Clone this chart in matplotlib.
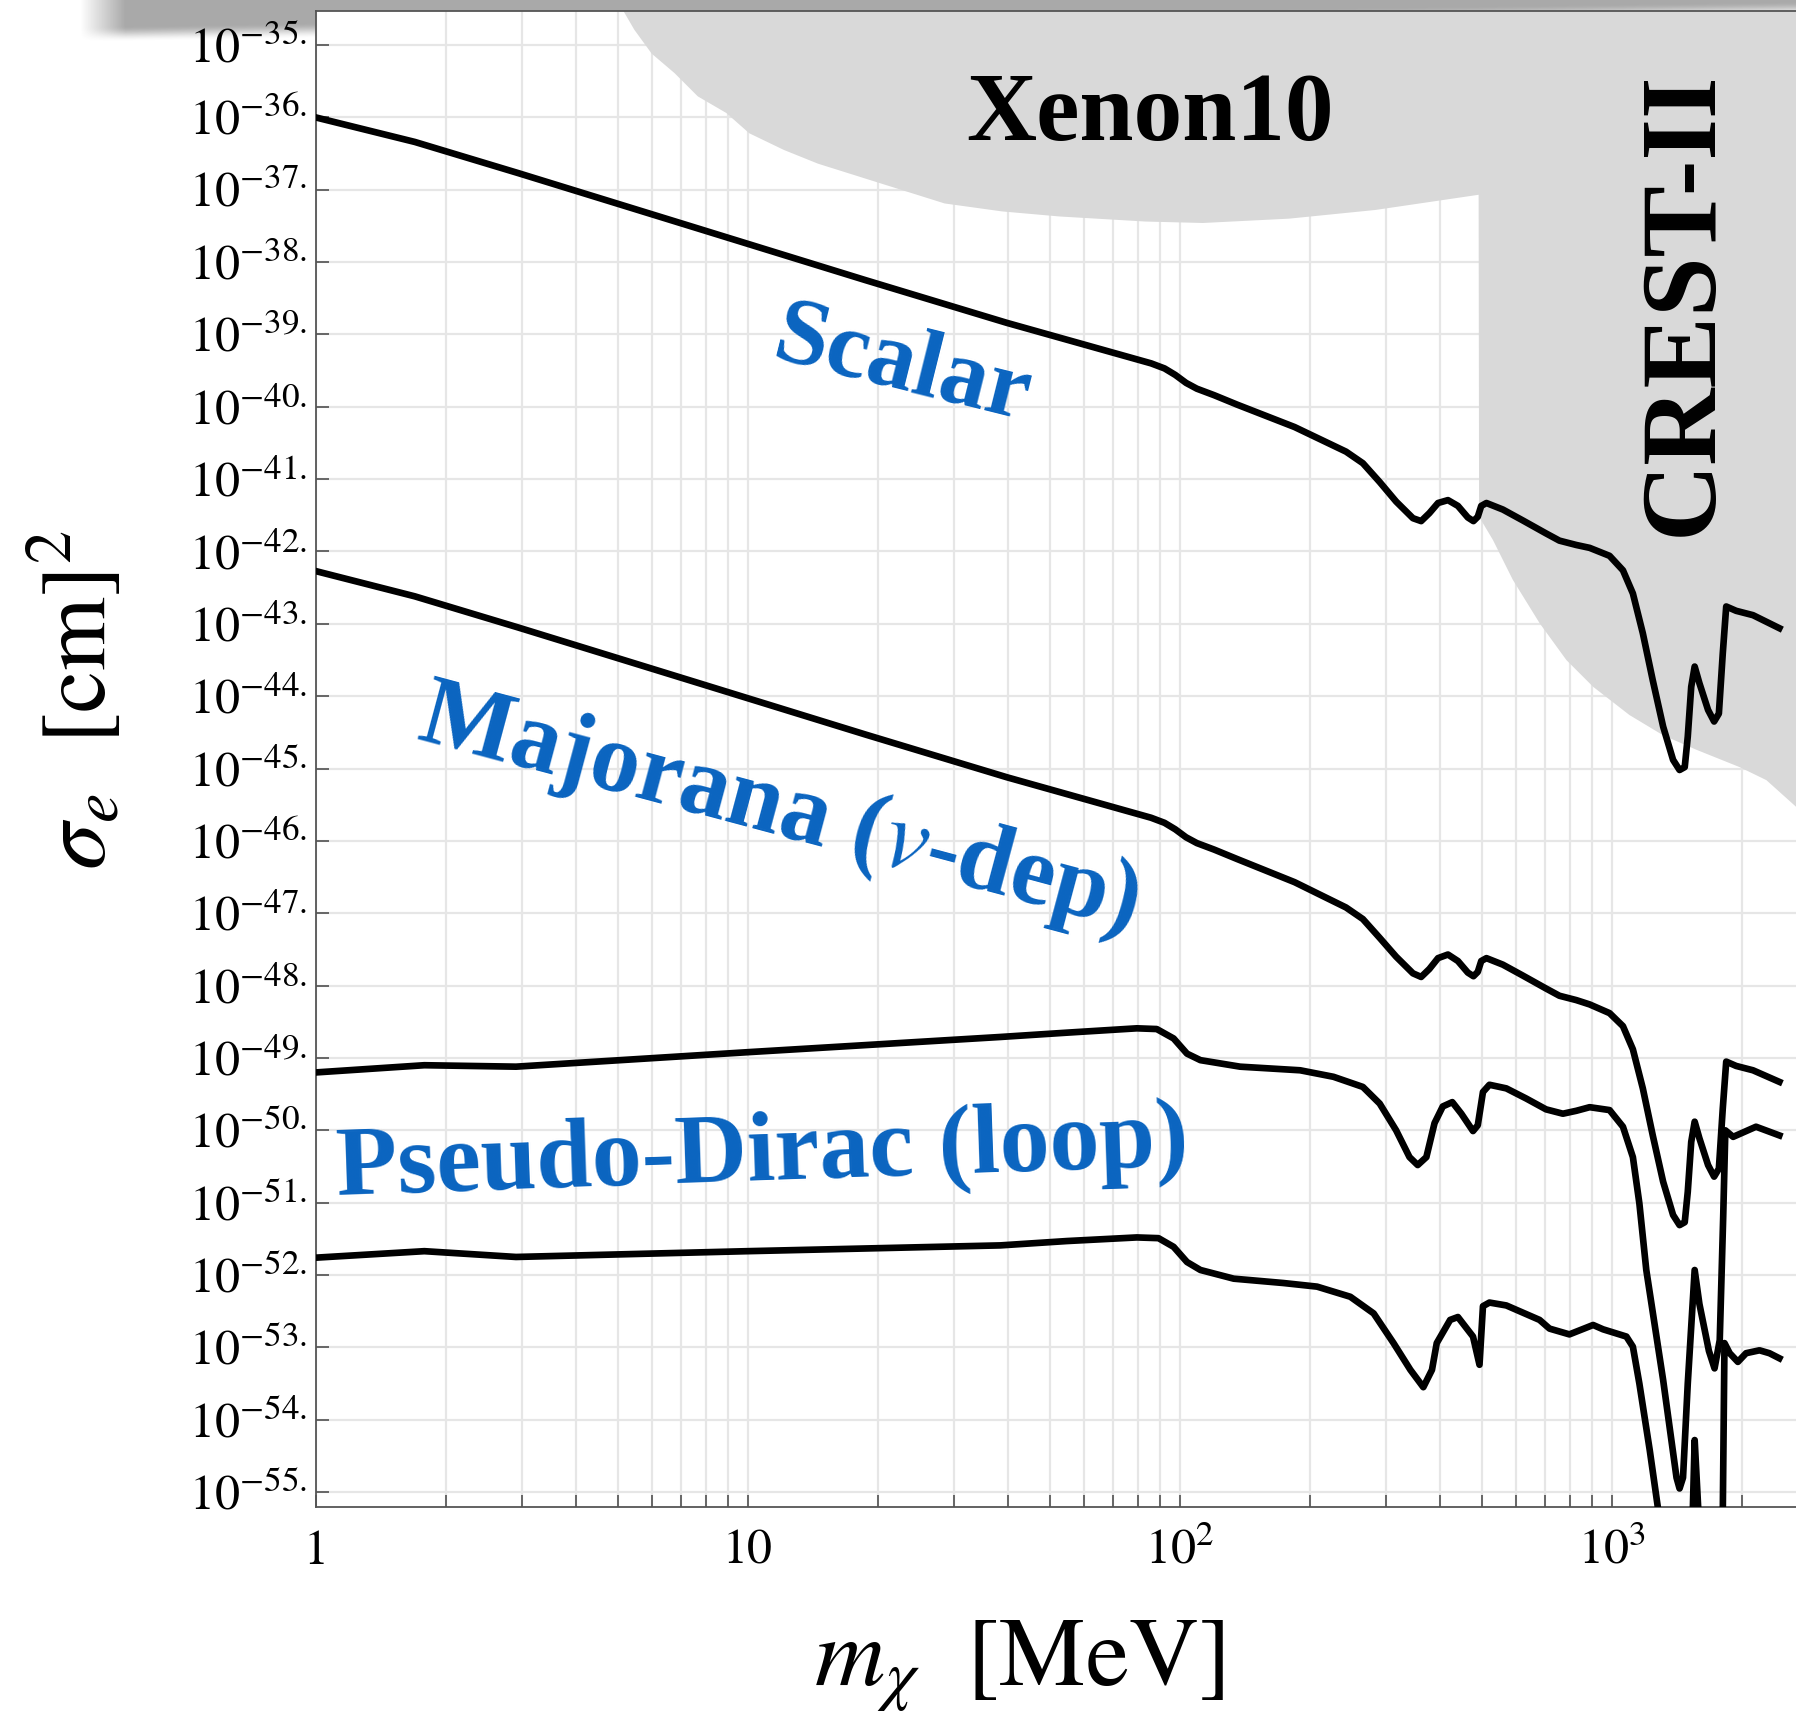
import numpy as np
import matplotlib.pyplot as plt
from matplotlib.ticker import LogLocator, NullFormatter, NullLocator

plt.rcParams['mathtext.fontset'] = 'stix'
plt.rcParams['font.family'] = ['STIXGeneral', 'DejaVu Serif']

# dark matter mass grid [MeV] shared by the scalar and Majorana curves
mass_sm = [1.0, 1.698, 2.944, 7.621, 18.75, 39.81, 85.90, 92.26, 97.72, 103.5,
           109.6, 120.2, 135.8, 184.5, 242.7, 265.5, 290.4, 317.0, 346.7, 362.2,
           378.4, 396.3, 417.8, 440.6, 464.5, 478.6, 489.8, 498.9, 512.9, 559.8,
           622.3, 704.7, 756.8, 827.9, 889.2, 988.6, 1061.7, 1119.4, 1180.3, 1244.5,
           1315.2, 1386.8, 1435.5, 1475.7, 1499.7, 1527.6, 1555.9, 1595.8, 1671.1, 1725.8,
           1770.1, 1807.2, 1840.8, 1940.9, 2123.2, 2443.4]
# log10(sigma_e / cm^2)
lsig_scalar = [-36.00, -36.34, -36.77, -37.53, -38.25, -38.84, -39.40, -39.47, -39.56, -39.67,
               -39.75, -39.84, -39.97, -40.28, -40.62, -40.78, -41.04, -41.31, -41.54, -41.58,
               -41.47, -41.33, -41.29, -41.37, -41.53, -41.58, -41.52, -41.37, -41.33, -41.42,
               -41.57, -41.75, -41.85, -41.91, -41.95, -42.06, -42.26, -42.58, -43.13, -43.78,
               -44.42, -44.88, -45.02, -44.98, -44.56, -43.87, -43.59, -43.82, -44.19, -44.35,
               -44.24, -43.41, -42.76, -42.82, -42.88, -43.06]
lsig_majorana = [-42.27, -42.62, -43.05, -43.81, -44.53, -45.12, -45.68, -45.75, -45.84, -45.95,
                 -46.03, -46.12, -46.25, -46.57, -46.92, -47.08, -47.34, -47.60, -47.83, -47.88,
                 -47.77, -47.62, -47.57, -47.66, -47.82, -47.87, -47.81, -47.66, -47.62, -47.71,
                 -47.86, -48.04, -48.14, -48.20, -48.26, -48.38, -48.56, -48.88, -49.42, -50.07,
                 -50.71, -51.17, -51.31, -51.27, -50.85, -50.16, -49.88, -50.11, -50.48, -50.64,
                 -50.53, -49.70, -49.05, -49.11, -49.17, -49.33]

mass_pd_hi = [1.0, 1.786, 2.911, 10.0, 38.37, 54.83, 79.62, 88.51, 96.83, 104.0,
              111.7, 138.0, 190.1, 227.0, 265.5, 290.4, 317.0, 340.4, 355.6, 372.4,
              389.0, 406.4, 427.6, 448.7, 477.5, 489.8, 503.5, 521.2, 570.2, 633.9,
              704.7, 770.9, 827.9, 889.2, 988.6, 1061.7, 1119.4, 1158.8, 1202.3, 1315.2,
              1412.5, 1435.5, 1462.2, 1499.7, 1555.9, 1595.8, 1678.8, 1729.8, 1778.3, 1811.3,
              1832.3, 1909.9, 2157.7, 2443.4]
lsig_pd_hi = [-49.20, -49.10, -49.12, -48.92, -48.71, -48.65, -48.59, -48.60, -48.73, -48.94,
              -49.03, -49.12, -49.17, -49.26, -49.40, -49.63, -50.00, -50.37, -50.48, -50.37,
              -49.90, -49.67, -49.61, -49.77, -50.01, -49.93, -49.47, -49.37, -49.42, -49.56,
              -49.71, -49.77, -49.73, -49.68, -49.72, -49.95, -50.37, -51.01, -51.93, -53.45,
              -54.80, -54.95, -54.80, -53.50, -51.93, -52.40, -53.05, -53.29, -52.90, -51.20,
              -50.00, -50.09, -49.95, -50.07]

mass_pd_lo = [1.0, 1.786, 2.911, 10.0, 38.46, 54.83, 79.62, 89.33, 96.83, 104.0,
              111.7, 133.4, 173.8, 208.0, 248.3, 281.2, 312.6, 342.0, 366.4, 383.7,
              393.6, 422.7, 440.6, 477.5, 494.3, 503.5, 521.2, 570.2, 680.8, 717.8,
              798.0, 905.7, 955.0, 1081.4, 1119.4, 1158.8, 1224.6, 1279.4, 1349.0, 1435.5,
              1513.6, 1538.2, 1555.9, 1584.9, 1625.5, 1717.9, 1798.9, 1823.9, 1875.0, 1958.8,
              2046.4, 2197.8, 2317.4, 2443.4]
lsig_pd_lo = [-51.76, -51.67, -51.75, -51.67, -51.59, -51.53, -51.48, -51.49, -51.61, -51.82,
              -51.93, -52.05, -52.11, -52.16, -52.30, -52.53, -52.94, -53.31, -53.55, -53.31,
              -52.94, -52.62, -52.58, -52.85, -53.24, -52.43, -52.38, -52.42, -52.62, -52.74,
              -52.82, -52.69, -52.75, -52.85, -52.99, -53.50, -54.42, -55.22, -56.10, -57.30,
              -56.40, -55.40, -54.28, -55.20, -56.20, -57.00, -56.50, -52.94, -53.08, -53.20,
              -53.08, -53.04, -53.08, -53.15]

# excluded regions
xenon10_mass = [4.90, 5.47, 6.00, 6.78, 7.67, 8.93, 10.09, 12.13, 14.55, 19.77,
                28.58, 38.82, 52.72, 83.37, 113.2, 179.1, 283.8, 492.0]
xenon10_lsig = [-34.30, -34.79, -35.12, -35.39, -35.71, -35.94, -36.22, -36.45, -36.64, -36.89,
                -37.19, -37.30, -37.37, -37.44, -37.46, -37.40, -37.28, -37.07]
crest_mass = [493.2, 530.9, 590.2, 680.8, 785.3, 905.7, 1099, 1315, 1570, 1977, 2280, 2673, 3162]
crest_lsig = [-41.52, -41.84, -42.39, -42.99, -43.50, -43.87, -44.26, -44.54, -44.74, -44.98,
              -45.16, -45.53, -46.00]

y_exponents = list(range(35, 56))
x_major = [1, 10, 100, 1000]
x_labels = ['1', '10', r'$10^2$', r'$10^3$']

W, H = 1796, 1719
fig = plt.figure(figsize=(W / 100, H / 100), dpi=100)

# soft drop shadow along the top edge
sh_h = 50
xx = np.arange(W)[None, :]
yy = np.arange(sh_h)[:, None]
edge = np.interp(np.arange(W), [90, 320, 1796], [34, 30, 9])[None, :]
left = np.clip((xx - 80) / 45.0, 0, 1)
fall = np.clip((edge - yy) / 16.0 + 0.5, 0, 1)
fall = fall * fall * (3 - 2 * fall)
shade = np.zeros((sh_h, W, 4))
shade[..., :3] = 0.25
shade[..., 3] = 0.45 * left * fall
fig.figimage(shade, xo=0, yo=H - sh_h, origin='upper', zorder=-1)

L = 315.5 / W
B = 1 - 1507.3 / H
ax = fig.add_axes([L, B, 1 - L, (1507.3 - 11) / H])
ax.set_xscale('log')
ax.set_yscale('log')

# grey exclusion band: Xenon10 on top, CREST-II on the right
poly_m = xenon10_mass + crest_mass + [3162, 4.90]
poly_s = xenon10_lsig + crest_lsig + [-34.0, -34.0]
ax.fill(poly_m, 10.0 ** np.array(poly_s), color='#d9d9d9', lw=0, zorder=1)

for m, ls in [(mass_sm, lsig_scalar), (mass_sm, lsig_majorana),
              (mass_pd_hi, lsig_pd_hi), (mass_pd_lo, lsig_pd_lo)]:
    ax.plot(m, 10.0 ** np.array(ls), color='black', lw=4.8, zorder=3,
            solid_joinstyle='round')

ax.set_xlim(1, 2670)
ax.set_ylim(6.17e-56, 2.95e-35)

ax.set_yticks([10.0 ** -k for k in y_exponents])
ax.set_yticklabels([rf'$10^{{-{k}.}}$' for k in y_exponents])
ax.yaxis.set_minor_locator(NullLocator())
ax.set_xticks(x_major)
ax.set_xticklabels(x_labels)
ax.xaxis.set_minor_locator(LogLocator(base=10, subs=np.arange(2, 10), numticks=20))
ax.xaxis.set_minor_formatter(NullFormatter())

ax.tick_params(which='both', direction='in', length=9, width=1.1, color='#444444',
               top=False, right=False)
ax.tick_params(axis='y', labelsize=36, pad=6)
ax.tick_params(axis='x', labelsize=36, pad=16)

ax.set_axisbelow(True)
ax.grid(True, which='major', color='#e6e6e6', lw=1.6)
ax.grid(True, which='minor', axis='x', color='#e6e6e6', lw=1.6)
for side in ['left', 'bottom', 'top']:
    ax.spines[side].set_color('#555555')
    ax.spines[side].set_linewidth(1.3)
ax.spines['right'].set_visible(False)

ax.set_xlabel(r'$m_{\chi}\ \ [\mathrm{MeV}]$', fontsize=70)
ax.xaxis.set_label_coords(0.475, -0.074)
ax.set_ylabel(r'$\sigma_e\ \ [\mathrm{cm}]^2$', fontsize=68, va='center')
ax.yaxis.set_label_coords(-0.161, 0.539)

ax.text(85.5, 10 ** -35.99, 'Xenon10', fontsize=70, fontweight='bold',
        family='Liberation Serif', ha='center', va='center', zorder=4)
ax.text(1472, 10 ** -38.57, 'CREST-II', fontsize=77, fontweight='bold',
        family='Liberation Serif', rotation=90, ha='center', va='center', zorder=4)

blue = '#0a64c0'
lab = dict(color=blue, fontweight='bold', family='Liberation Serif',
           ha='center', va='center', rotation_mode='anchor', zorder=4)
ax.text(22.8, 10 ** -39.45, 'Scalar', rotation=-14, fontsize=69, **lab)
ax.text(11.8, 10 ** -45.58, r'Majorana ($v$-dep)', rotation=-15, fontsize=71, **lab)
ax.text(10.8, 10 ** -50.36, 'Pseudo-Dirac (loop)', rotation=2, fontsize=72, **lab)

fig.savefig('out.png', dpi=100)
